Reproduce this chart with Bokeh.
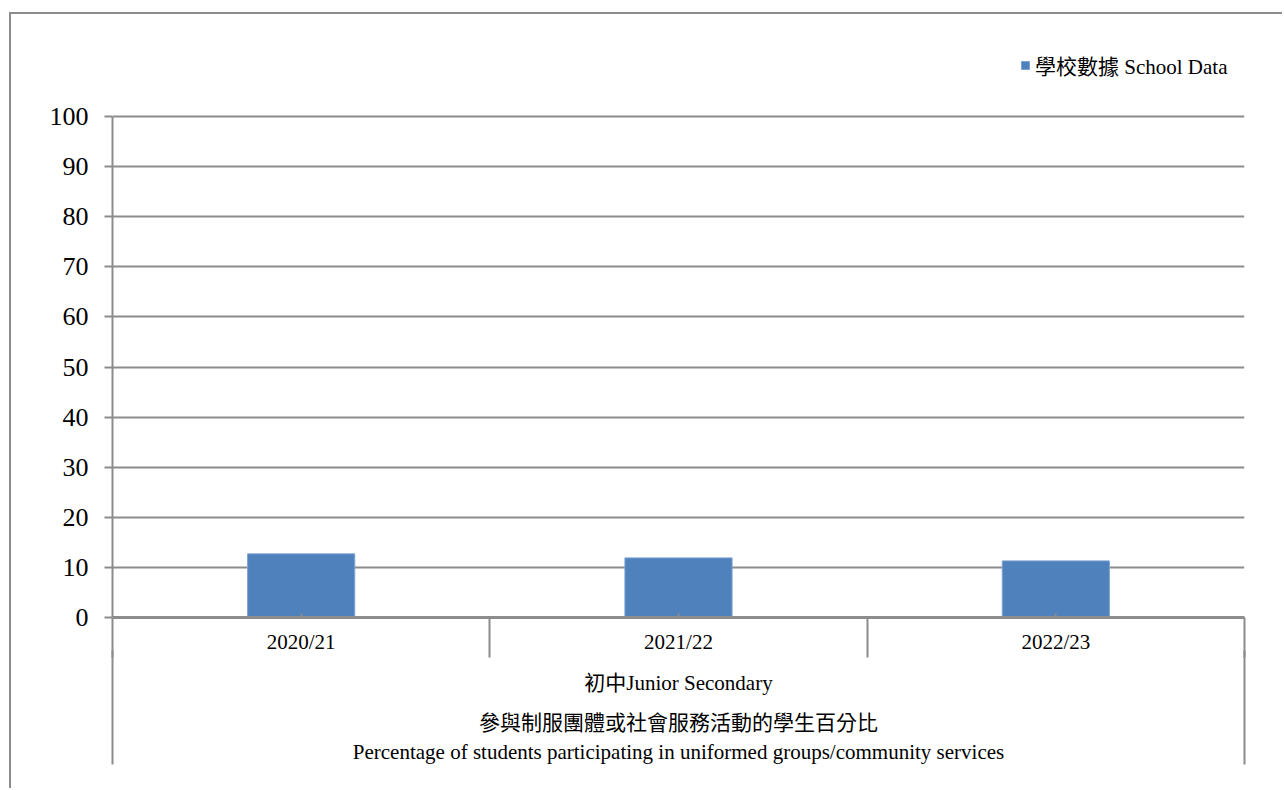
from bokeh.plotting import figure
from bokeh.models import (ColumnDataSource, FixedTicker, LinearAxis, Legend, LegendItem,
                          Range1d)
from bokeh.embed import file_html
from bokeh.resources import INLINE

categories = ["2020/21", "2021/22", "2022/23"]
school_data = [12.7, 11.9, 11.3]
y_ticks = [0, 10, 20, 30, 40, 50, 60, 70, 80, 90, 100]
group_label = "初中Junior Secondary"
title_zh = "參與制服團體或社會服務活動的學生百分比"
title_en = "Percentage of students participating in uniformed groups/community services"
series_name = "學校數據 School Data"

FONT = "'Liberation Serif', 'Noto Sans CJK TC'"
GRAY = "#8c8c8c"
BLUE = "#4f81bd"

xs = [i + 0.5 for i in range(len(categories))]
src = ColumnDataSource(dict(x=xs, y=school_data))

# frame extends above the 100 line to hold the legend; 100 stays at the axis top
Y_TOP = 115.17

p = figure(width=1273, height=776, output_backend="svg", toolbar_location=None,
           x_range=Range1d(0, len(categories)), y_range=Range1d(0, Y_TOP),
           x_axis_location=None, y_axis_location=None,
           min_border_left=101, min_border_right=40, min_border_top=26,
           min_border_bottom=173, margin=(12, 0, 0, 9),
           styles={"border-top": f"2px solid {GRAY}", "border-left": f"2px solid {GRAY}"})
p.outline_line_color = None
p.background_fill_color = "white"
p.border_fill_color = "white"

r = p.vbar(x="x", top="y", width=0.284, source=src, fill_color=BLUE,
           line_color="#7fa3d3", line_width=1)

# y axis
yax = LinearAxis(ticker=FixedTicker(ticks=y_ticks, minor_ticks=[]), bounds=(0, 100))
yax.axis_line_color = GRAY
yax.axis_line_width = 2
yax.major_tick_line_color = GRAY
yax.major_tick_line_width = 2
yax.major_tick_in = 0
yax.major_tick_out = 8
yax.minor_tick_line_color = None
yax.minor_tick_out = 0
yax.minor_tick_in = 0
yax.major_label_text_font = FONT
yax.major_label_text_font_size = "26px"
yax.major_label_text_color = "black"
yax.major_label_standoff = 16
p.add_layout(yax, "left")

# grid
p.xgrid.visible = False
p.ygrid.ticker = FixedTicker(ticks=y_ticks)
p.ygrid.grid_line_color = GRAY
p.ygrid.grid_line_width = 2

# x axis level 1: category labels and separators
xax = LinearAxis(ticker=FixedTicker(ticks=xs, minor_ticks=list(range(len(categories) + 1))))
xax.major_label_overrides = {x: c for x, c in zip(xs, categories)}
xax.axis_line_color = GRAY
xax.axis_line_width = 3
xax.major_tick_line_color = GRAY
xax.major_tick_line_width = 2
xax.major_tick_in = 4
xax.major_tick_out = 0
xax.minor_tick_line_color = GRAY
xax.minor_tick_line_width = 2
xax.minor_tick_in = 0
xax.minor_tick_out = 40
xax.major_label_text_font = FONT
xax.major_label_text_font_size = "21px"
xax.major_label_text_color = "black"
xax.major_label_standoff = -28
p.add_layout(xax, "below")

# x axis level 2: group label, outer lines and chart title
xax2 = LinearAxis(ticker=FixedTicker(ticks=[len(categories) / 2], minor_ticks=[0, len(categories)]))
xax2.major_label_overrides = {len(categories) / 2: group_label}
xax2.axis_line_color = None
xax2.major_tick_line_color = None
xax2.minor_tick_line_color = GRAY
xax2.minor_tick_line_width = 2
xax2.minor_tick_in = 6
xax2.minor_tick_out = 108
xax2.major_tick_in = 0
xax2.major_tick_out = 0
xax2.major_label_text_font = FONT
xax2.major_label_text_font_size = "21px"
xax2.major_label_text_color = "black"
xax2.major_label_standoff = -94
xax2.axis_label = title_zh + "\n" + title_en
xax2.axis_label_text_font = FONT
xax2.axis_label_text_font_size = "21px"
xax2.axis_label_text_font_style = "normal"
xax2.axis_label_text_color = "black"
xax2.axis_label_text_line_height = 1.23
xax2.axis_label_standoff = 13
p.add_layout(xax2, "below")

legend = Legend(items=[LegendItem(label=series_name, renderers=[r])],
                location=(908, 537), orientation="horizontal",
                glyph_width=10, glyph_height=10, label_standoff=5,
                label_text_font=FONT, label_text_font_size="21px",
                label_text_color="black", border_line_color=None,
                background_fill_alpha=0, padding=0, margin=0)
p.add_layout(legend, "center")

open("out.html", "w").write(file_html(p, INLINE))
